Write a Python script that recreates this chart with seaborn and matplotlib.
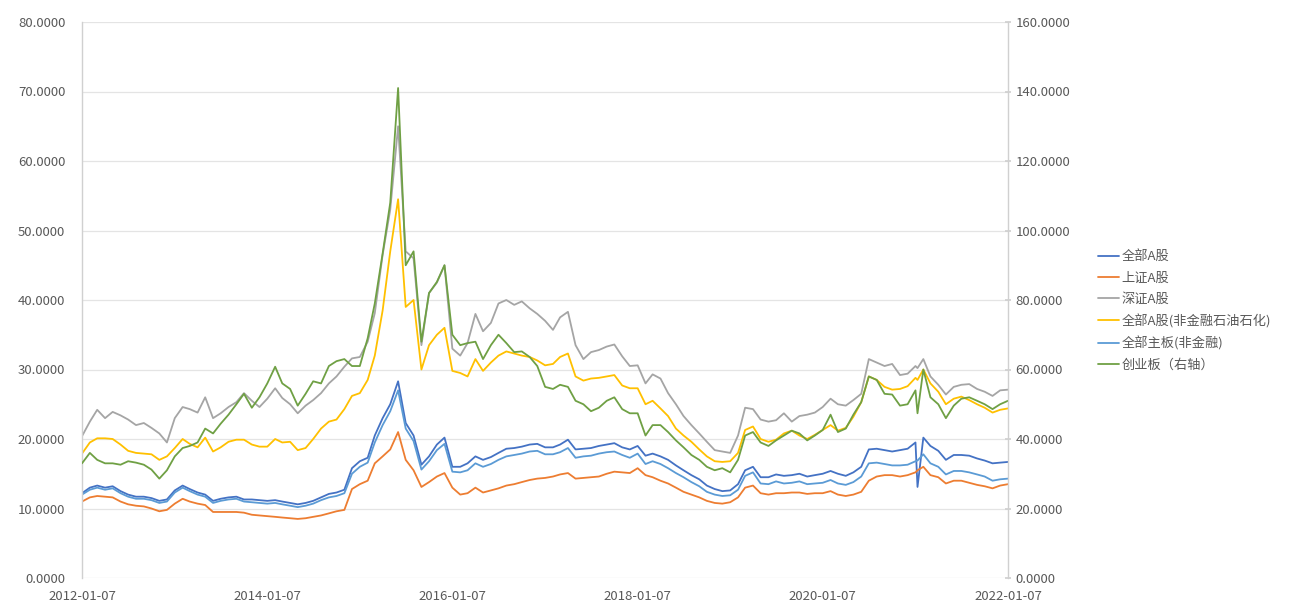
import pandas as pd
import numpy as np
import matplotlib
matplotlib.use("Agg")
import matplotlib.pyplot as plt
import matplotlib.dates as mdates
from matplotlib.ticker import MultipleLocator, FormatStrFormatter
from matplotlib.lines import Line2D
import seaborn as sns

# ---- data: monthly PE readings (7th of each month) plus one extra mid-January 2021 reading ----
dates = list(pd.date_range("2012-01-07", "2022-01-07", freq=pd.DateOffset(months=1)))
dates.insert(109, pd.Timestamp("2021-01-15"))

series_names = ["全部A股", "上证A股", "深证A股", "全部A股(非金融石油石化)", "全部主板(非金融)", "创业板（右轴）"]

quanbu_a = [12.2, 13.0, 13.3, 13.0, 13.2, 12.5, 12.0, 11.7, 11.7, 11.5, 11.1, 11.3,
            12.6, 13.3, 12.8, 12.3, 12.0, 11.1, 11.4, 11.6, 11.7, 11.3, 11.3, 11.2,
            11.1, 11.2, 11.0, 10.8, 10.6, 10.8, 11.1, 11.6, 12.1, 12.3, 12.7, 15.8,
            16.8, 17.3, 20.5, 23.0, 25.0, 28.3, 22.3, 20.5, 16.3, 17.5, 19.2, 20.2,
            16.0, 16.0, 16.5, 17.5, 17.0, 17.4, 18.0, 18.6, 18.7, 18.9, 19.2, 19.3,
            18.8, 18.8, 19.2, 19.9, 18.5, 18.6, 18.7, 19.0, 19.2, 19.4, 18.8, 18.5,
            19.0, 17.6, 17.9, 17.5, 17.0, 16.2, 15.5, 14.8, 14.2, 13.3, 12.8, 12.5,
            12.6, 13.5, 15.5, 16.0, 14.5, 14.5, 14.9, 14.7, 14.8, 15.0, 14.6, 14.8,
            15.0, 15.4, 15.0, 14.7, 15.2, 16.0, 18.5, 18.6, 18.4, 18.2, 18.4, 18.6,
            19.5, 13.1, 20.2, 19.0, 18.3, 17.0, 17.7, 17.7, 17.6, 17.2, 16.9, 16.5, 16.6, 16.7]

shangzheng_a = [11.0, 11.6, 11.8, 11.7, 11.6, 11.0, 10.6, 10.4, 10.3, 10.0, 9.6, 9.8,
                10.7, 11.4, 11.0, 10.7, 10.5, 9.5, 9.5, 9.5, 9.5, 9.4, 9.1, 9.0,
                8.9, 8.8, 8.7, 8.6, 8.5, 8.6, 8.8, 9.0, 9.3, 9.6, 9.8, 12.8,
                13.5, 14.0, 16.5, 17.5, 18.5, 21.0, 17.0, 15.5, 13.1, 13.8, 14.6, 15.1,
                13.0, 12.0, 12.2, 13.0, 12.3, 12.6, 12.9, 13.3, 13.5, 13.8, 14.1, 14.3,
                14.4, 14.6, 14.9, 15.1, 14.3, 14.4, 14.5, 14.6, 15.0, 15.3, 15.2, 15.1,
                15.8, 14.8, 14.5, 14.0, 13.6, 13.0, 12.4, 12.0, 11.6, 11.1, 10.8, 10.7,
                10.9, 11.6, 13.0, 13.3, 12.2, 12.0, 12.2, 12.2, 12.3, 12.3, 12.1, 12.2,
                12.2, 12.5, 12.0, 11.8, 12.0, 12.4, 14.0, 14.6, 14.8, 14.8, 14.6, 14.8,
                15.2, 15.5, 16.0, 14.8, 14.5, 13.6, 14.0, 14.0, 13.7, 13.4, 13.2, 12.9, 13.3, 13.5]

shenzheng_a = [20.4, 22.5, 24.2, 23.0, 23.9, 23.4, 22.8, 22.0, 22.3, 21.6, 20.8, 19.5,
               23.0, 24.6, 24.3, 23.8, 26.0, 23.0, 23.7, 24.6, 25.3, 26.6, 25.5, 24.6,
               25.8, 27.3, 25.9, 25.0, 23.7, 24.8, 25.6, 26.6, 28.0, 29.0, 30.4, 31.6,
               31.8, 34.0, 38.1, 46.5, 53.0, 65.0, 47.0, 46.0, 33.5, 41.0, 42.5, 45.0,
               33.0, 32.0, 33.8, 38.0, 35.5, 36.7, 39.5, 40.0, 39.3, 39.8, 38.8, 38.0,
               37.0, 35.7, 37.5, 38.3, 33.5, 31.5, 32.5, 32.8, 33.3, 33.6, 31.9, 30.5,
               30.6, 28.0, 29.3, 28.7, 26.6, 25.0, 23.3, 22.0, 20.8, 19.6, 18.4, 18.2,
               18.0, 20.5, 24.5, 24.3, 22.8, 22.5, 22.7, 23.7, 22.5, 23.3, 23.5, 23.8,
               24.6, 25.8, 25.0, 24.8, 25.6, 26.5, 31.5, 31.0, 30.5, 30.8, 29.2, 29.4,
               30.5, 30.2, 31.5, 29.0, 27.8, 26.4, 27.5, 27.8, 27.9, 27.2, 26.8, 26.2, 27.0, 27.1]

feijinrong_a = [17.9, 19.5, 20.1, 20.1, 20.0, 19.2, 18.3, 18.0, 17.9, 17.8, 17.0, 17.5,
                18.7, 20.0, 19.3, 18.8, 20.2, 18.2, 18.8, 19.6, 19.9, 19.9, 19.2, 18.9,
                18.9, 20.0, 19.5, 19.6, 18.4, 18.7, 20.0, 21.5, 22.5, 22.8, 24.3, 26.2,
                26.6, 28.5, 32.0, 38.5, 47.0, 54.5, 39.0, 40.0, 30.0, 33.5, 35.0, 36.0,
                29.8, 29.5, 29.0, 31.5, 29.8, 31.0, 32.0, 32.6, 32.3, 32.0, 31.8, 31.3,
                30.6, 30.8, 31.8, 32.3, 29.0, 28.4, 28.7, 28.8, 29.0, 29.2, 27.7, 27.3,
                27.3, 25.0, 25.5, 24.4, 23.3, 21.5, 20.5, 19.6, 18.5, 17.5, 16.8, 16.7,
                16.8, 18.0, 21.3, 21.8, 20.0, 19.6, 19.9, 20.8, 21.2, 20.5, 20.0, 20.6,
                21.3, 22.0, 21.2, 21.6, 23.2, 25.3, 29.0, 28.5, 27.5, 27.1, 27.2, 27.6,
                28.8, 28.5, 30.0, 28.0, 26.8, 25.0, 25.8, 26.1, 25.6, 25.0, 24.5, 23.8, 24.2, 24.4]

zhuban_feijinrong = [12.0, 12.7, 13.0, 12.7, 12.9, 12.2, 11.7, 11.4, 11.4, 11.2, 10.8, 11.0,
                     12.3, 13.0, 12.5, 12.0, 11.7, 10.8, 11.1, 11.3, 11.4, 11.0, 10.9, 10.8,
                     10.7, 10.8, 10.6, 10.4, 10.2, 10.4, 10.7, 11.2, 11.6, 11.8, 12.2, 15.0,
                     16.0, 16.6, 19.5, 22.0, 24.0, 27.0, 21.5, 19.7, 15.6, 16.8, 18.4, 19.3,
                     15.3, 15.2, 15.5, 16.5, 16.0, 16.4, 17.0, 17.5, 17.7, 17.9, 18.2, 18.3,
                     17.8, 17.8, 18.1, 18.7, 17.3, 17.5, 17.6, 17.9, 18.1, 18.2, 17.7, 17.3,
                     17.9, 16.4, 16.8, 16.4, 15.8, 15.1, 14.5, 13.8, 13.2, 12.4, 12.0, 11.8,
                     11.9, 12.7, 14.7, 15.2, 13.6, 13.5, 13.9, 13.6, 13.7, 13.9, 13.5, 13.6,
                     13.7, 14.1, 13.6, 13.4, 13.8, 14.6, 16.5, 16.6, 16.4, 16.2, 16.2, 16.3,
                     16.8, 16.9, 17.8, 16.5, 16.0, 14.9, 15.4, 15.4, 15.2, 14.9, 14.6, 14.0, 14.2, 14.3]

chuangye = [33.0, 36.0, 34.0, 33.0, 33.0, 32.6, 33.6, 33.2, 32.6, 31.2, 28.6, 31.0,
            35.0, 37.4, 38.0, 39.0, 43.0, 41.6, 44.4, 47.0, 50.0, 53.0, 49.0, 52.0,
            56.0, 60.8, 56.0, 54.4, 49.6, 53.0, 56.6, 56.0, 61.0, 62.4, 63.0, 61.0,
            61.0, 69.0, 79.0, 93.4, 108.0, 141.0, 90.0, 94.0, 68.0, 82.0, 85.2, 90.0,
            70.0, 67.0, 67.6, 68.0, 63.0, 67.0, 70.0, 67.6, 65.0, 65.2, 63.6, 61.0,
            55.0, 54.4, 55.6, 55.0, 51.0, 50.0, 48.0, 49.0, 51.0, 52.0, 48.6, 47.4,
            47.4, 41.0, 44.0, 44.0, 42.0, 39.6, 37.6, 35.4, 34.0, 32.0, 31.0, 31.6,
            30.4, 34.0, 41.0, 42.0, 39.0, 38.0, 39.6, 41.0, 42.4, 41.6, 39.6, 41.0,
            42.6, 47.0, 42.0, 43.0, 47.0, 50.6, 58.0, 57.0, 53.0, 52.8, 49.6, 50.0,
            54.0, 47.4, 60.0, 52.0, 50.0, 46.0, 49.6, 51.6, 52.0, 51.0, 50.0, 48.6, 50.0, 51.0]

colors = ["#4472C4", "#ED7D31", "#A5A5A5", "#FFC000", "#5B9BD5", "#6FA044"]

left_df = pd.DataFrame({
    "date": dates,
    series_names[0]: quanbu_a,
    series_names[1]: shangzheng_a,
    series_names[2]: shenzheng_a,
    series_names[3]: feijinrong_a,
    series_names[4]: zhuban_feijinrong,
}).melt(id_vars="date", var_name="series", value_name="pe")
right_df = pd.DataFrame({"date": dates, "pe": chuangye})

sns.set_theme(style="white")
plt.rcParams["font.family"] = ["Noto Sans CJK SC", "DejaVu Sans"]
plt.rcParams["axes.unicode_minus"] = False

fig = plt.figure(figsize=(13.09, 6.05), dpi=100)
ax = fig.add_axes([82 / 1309, 1 - 578 / 605, (1008 - 82) / 1309, (578 - 22) / 605])
ax2 = ax.twinx()

sns.lineplot(data=left_df, x="date", y="pe", hue="series", hue_order=series_names[:5],
             palette=colors[:5], linewidth=1.3, ax=ax, legend=False)
sns.lineplot(data=right_df, x="date", y="pe", color=colors[5], linewidth=1.3, ax=ax2, legend=False)

start, end = pd.Timestamp("2012-01-07"), pd.Timestamp("2022-01-07")
ax.set_xlim(start, end)
ax.set_ylim(0, 80)
ax2.set_ylim(0, 160)
ax.yaxis.set_major_locator(MultipleLocator(10))
ax2.yaxis.set_major_locator(MultipleLocator(20))
ax.yaxis.set_major_formatter(FormatStrFormatter("%.4f"))
ax2.yaxis.set_major_formatter(FormatStrFormatter("%.4f"))
xticks = [pd.Timestamp(f"{y}-01-07") for y in range(2012, 2023, 2)]
ax.set_xticks(xticks)
ax.xaxis.set_major_formatter(mdates.DateFormatter("%Y-%m-%d"))

ax.grid(axis="y", color="#E4E4E4", linewidth=0.9)
ax.grid(axis="x", visible=False)
ax2.grid(False)
for a in (ax, ax2):
    a.set_xlabel("")
    a.set_ylabel("")
    a.spines["top"].set_visible(False)
    a.spines["bottom"].set_visible(False)
    a.spines["left"].set_color("#D0D0D0")
    a.spines["right"].set_color("#D0D0D0")
    a.spines["left"].set_linewidth(1.0)
    a.spines["right"].set_linewidth(1.0)
ax2.spines["left"].set_visible(False)
ax.spines["right"].set_visible(False)

ax.tick_params(axis="y", length=0, labelsize=9.5, labelcolor="#595959", pad=12)
ax.tick_params(axis="x", length=0, labelsize=9.5, labelcolor="#595959", pad=9)
ax2.tick_params(axis="y", length=5, direction="inout", color="#D0D0D0",
                labelsize=9.5, labelcolor="#595959", pad=3)

handles = [Line2D([0], [0], color=c, linewidth=1.3) for c in colors]
fig.legend(handles, series_names, loc="center left", bbox_to_anchor=(1093 / 1309, 1 - 311 / 605),
           frameon=False, fontsize=9.5, handlelength=1.6, handletextpad=0.15,
           labelspacing=0.62, labelcolor="#595959", borderaxespad=0)

fig.savefig("out.png", dpi=100, facecolor="white")
